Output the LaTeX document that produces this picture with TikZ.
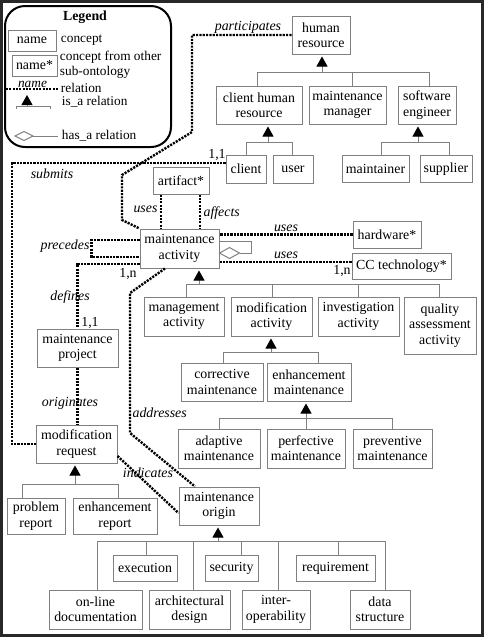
\documentclass[tikz,border=0pt]{standalone}
\usepackage{fontspec}
\setmainfont{Liberation Serif}
\usetikzlibrary{arrows.meta,calc}
\definecolor{boxgray}{RGB}{128,128,128}
\definecolor{framegray}{RGB}{40,40,40}
\begin{document}
\begin{tikzpicture}[x=0.75pt,y=-0.75pt,
  every node/.style={font=\fontsize{10.4}{11.5}\selectfont},
  concept/.style={draw=boxgray, line width=0.75pt, fill=white, align=center, inner sep=0pt},
  wd/.style={minimum width=#1*0.75pt},
  ht/.style={minimum height=#1*0.75pt},
  rel/.style={line width=1.8pt, dash pattern=on 1.6pt off 0.9pt},
  lbl/.style={font=\fontsize{10.4}{11.5}\selectfont\itshape, inner sep=1pt},
  txt/.style={inner sep=1pt},
  legtxt/.style={inner sep=0.5pt, font=\fontsize{10}{11}\selectfont},
  isa/.style={draw=boxgray, line width=0.75pt},
  isatip/.style={isa, -{Triangle[color=black, fill=black, width=8.25pt, length=7.5pt]}, shorten >=1.5pt},
]
\useasboundingbox (0,0) rectangle (484,637);
\draw[framegray, line width=2.25pt] (1.5,1.5) rectangle (482.5,635.5);

% ---------- legend ----------
\draw[line width=1.5pt, rounded corners=15pt] (5,6) rectangle (171,147);
\node[font=\fontsize{10.4}{11.5}\selectfont\bfseries] (legtitle) at (85,17) {Legend};
\node[concept, wd=48, ht=21] (lname) at (32,40.5) {name};
\node[legtxt, anchor=west] (lconcept) at (60,40) {concept};
\node[concept, wd=45, ht=21] (lname2) at (34.5,65.5) {name*};
\node[legtxt, anchor=west, align=left] (lother) at (59,65) {concept from other\\sub-ontology};
\draw[rel] (6,89) -- (59,89) node[lbl, midway, above, inner sep=0.5pt, font=\fontsize{10}{11}\selectfont\itshape] (lrelname) {name};
\node[legtxt, anchor=west] (lrel) at (60,88) {relation};
\draw[isa] (16,109) -- (16,106) -- (50,106) -- (50,109);
\draw[isatip] (27,106) -- (27,93);
\node[legtxt, anchor=west] (lisa) at (61,101.5) {is\_a relation};
\draw[isa, fill=white] (15,136) -- (24,131.5) -- (33,136) -- (24,140.5) -- cycle;
\draw[isa] (33,136) -- (58,136);
\node[legtxt, anchor=west] (lhasa) at (61,136) {has\_a relation};

% ---------- concepts ----------
\node[concept, wd=58, ht=38] (hr) at (321,35) {human\\resource};
\node[concept, wd=86, ht=38] (chr) at (259,105) {client human\\resource};
\node[concept, wd=77, ht=38] (mm) at (347.5,105) {maintenance\\manager};
\node[concept, wd=58, ht=38] (se) at (427,105) {software\\engineer};
\node[concept, wd=40, ht=28] (client) at (246,169) {client};
\node[concept, wd=40, ht=28] (user) at (293,169) {user};
\node[concept, wd=67, ht=27] (maintainer) at (375.5,169) {maintainer};
\node[concept, wd=52, ht=27] (supplier) at (446,169) {supplier};
\node[concept, wd=56, ht=27] (artifact) at (181,180.5) {artifact*};
\node[concept, wd=79, ht=39] (ma) at (179.5,248.5) {maintenance\\activity};
\node[concept, wd=68, ht=27] (hw) at (387,234.5) {hardware*};
\node[concept, wd=99, ht=26] (cc) at (401.5,266) {CC technology*};
\node[concept, wd=80, ht=39] (mga) at (184,316.5) {management\\activity};
\node[concept, wd=81, ht=39] (moda) at (271.5,316.5) {modification\\activity};
\node[concept, wd=81, ht=39] (inva) at (358.5,316.5) {investigation\\activity};
\node[concept, wd=72, ht=57] (qaa) at (440,325.5) {quality\\assessment\\activity};
\node[concept, wd=82, ht=38] (cm) at (222,382) {corrective\\maintenance};
\node[concept, wd=84, ht=38] (em) at (309,382) {enhancement\\maintenance};
\node[concept, wd=82, ht=39] (am) at (219,448.5) {adaptive\\maintenance};
\node[concept, wd=78, ht=39] (pm) at (306,448.5) {perfective\\maintenance};
\node[concept, wd=79, ht=39] (pvm) at (392.5,448.5) {preventive\\maintenance};
\node[concept, wd=80, ht=38] (mo) at (219,506) {maintenance\\origin};
\node[concept, wd=64, ht=26] (exec) at (145,568) {execution};
\node[concept, wd=53, ht=26] (sec) at (231.5,568) {security};
\node[concept, wd=79, ht=26] (req) at (335.5,568) {requirement};
\node[concept, wd=93, ht=39] (old) at (95.5,609.5) {on-line\\documentation};
\node[concept, wd=81, ht=39] (ad) at (189.5,609.5) {architectural\\design};
\node[concept, wd=68, ht=39] (io) at (276,609.5) {inter-\\operability};
\node[concept, wd=60, ht=39] (ds) at (380,609.5) {data\\structure};
\node[concept, wd=81, ht=38] (mp) at (77.5,348) {maintenance\\project};
\node[concept, wd=81, ht=38] (mr) at (76.5,444) {modification\\request};
\node[concept, wd=58, ht=36] (pr) at (36,516) {problem\\report};
\node[concept, wd=84, ht=36] (er) at (115,516) {enhancement\\report};

% ---------- is_a hierarchies ----------
% human resource
\coordinate (t1) at (322,72);
\draw[isatip] (t1) -- (t1 |- hr.south);
\coordinate (b1a) at (257,72); \coordinate (b1b) at (352,72); \coordinate (b1c) at (429,72);
\draw[isa] (b1a) -- (b1c);
\foreach \c/\n in {b1a/chr, b1b/mm, b1c/se} \draw[isa] (\c) -- (\c |- \n.north);
% client human resource
\coordinate (t2) at (268,142);
\draw[isatip] (t2) -- (t2 |- chr.south);
\coordinate (b2a) at (246,142); \coordinate (b2b) at (292,142);
\draw[isa] (b2a) -- (b2b);
\foreach \c/\n in {b2a/client, b2b/user} \draw[isa] (\c) -- (\c |- \n.north);
% software engineer
\coordinate (t3) at (418,142);
\draw[isatip] (t3) -- (t3 |- se.south);
\coordinate (b3a) at (381,142); \coordinate (b3b) at (449,142);
\draw[isa] (b3a) -- (b3b);
\foreach \c/\n in {b3a/maintainer, b3b/supplier} \draw[isa] (\c) -- (\c |- \n.north);
% maintenance activity
\coordinate (t4) at (199,284);
\draw[isatip] (t4) -- (t4 |- ma.south);
\coordinate (b4a) at (186,284); \coordinate (b4b) at (272,284); \coordinate (b4c) at (358,284); \coordinate (b4d) at (439,284);
\draw[isa] (b4a) -- (b4d);
\foreach \c/\n in {b4a/mga, b4b/moda, b4c/inva, b4d/qaa} \draw[isa] (\c) -- (\c |- \n.north);
% modification activity
\coordinate (t5) at (271,352);
\draw[isatip] (t5) -- (t5 |- moda.south);
\coordinate (b5a) at (223,352); \coordinate (b5b) at (318,352);
\draw[isa] (b5a) -- (b5b);
\foreach \c/\n in {b5a/cm, b5b/em} \draw[isa] (\c) -- (\c |- \n.north);
% enhancement maintenance
\coordinate (t6) at (306,418);
\draw[isatip] (t6) -- (t6 |- em.south);
\coordinate (b6a) at (219,418); \coordinate (b6b) at (306,418); \coordinate (b6c) at (392,418);
\draw[isa] (b6a) -- (b6c);
\foreach \c/\n in {b6a/am, b6b/pm, b6c/pvm} \draw[isa] (\c) -- (\c |- \n.north);
% maintenance origin
\coordinate (t7) at (218,541);
\draw[isatip] (t7) -- (t7 |- mo.south);
\coordinate (b7a) at (97,541); \coordinate (b7b) at (146,541); \coordinate (b7c) at (193,541);
\coordinate (b7d) at (241,541); \coordinate (b7e) at (278,541); \coordinate (b7f) at (338,541); \coordinate (b7g) at (385,541);
\draw[isa] (b7a) -- (b7g);
\foreach \c/\n in {b7a/old, b7b/exec, b7c/ad, b7d/sec, b7e/io, b7f/req, b7g/ds} \draw[isa] (\c) -- (\c |- \n.north);
% modification request
\coordinate (t8) at (75,484);
\draw[isatip] (t8) -- (t8 |- mr.south);
\coordinate (b8a) at (22,484); \coordinate (b8b) at (118,484);
\draw[isa] (b8a) -- (b8b);
\foreach \c/\n in {b8a/pr, b8b/er} \draw[isa] (\c) -- (\c |- \n.north);

% ---------- has_a self relation ----------
\coordinate (h1) at ([yshift=5.6pt]ma.east);
\draw[isa] (h1) -- ++(32,0) -- ++(0,12) -- ++(-12,0);
\draw[isa, fill=white] ($(h1)+(0,12)$) -- ++(10,-5.5) -- ++(10,5.5) -- ++(-10,5.5) -- cycle;

% ---------- relations ----------
% participates
\draw[rel] (hr.west) -- (192,35) -- (192,132) -- (122,175) -- (122,220) -- (ma.north west);
\node[lbl] (lpart) at (248,27) {participates};
% submits
\draw[rel] ([yshift=4.5pt]client.west) -- (12,163) -- (12,444) -- (mr.west);
\node[lbl] (lsub) at (52,174) {submits};
\node[txt] (c11a) at (217,155) {1,1};
% uses / affects artifact
\coordinate (u1) at ([xshift=-15pt]artifact.south);
\coordinate (u2) at ([xshift=14.25pt]artifact.south);
\draw[rel] (u1) -- (u1 |- ma.north);
\draw[rel] (u2) -- (u2 |- ma.north);
\node[lbl, anchor=east] (luses1) at (159,209) {uses};
\node[lbl, anchor=west] (laff) at (202,213) {affects};
% uses hardware
\draw[rel] (hw.west) -- (hw.west -| ma.east);
\node[lbl] (luses2) at (286,228) {uses};
% uses CC technology
\coordinate (c1) at ([yshift=3pt]cc.west);
\draw[rel] (c1) -- (c1 -| ma.east);
\node[lbl] (luses3) at (286,255) {uses};
\node[txt] (c1n2) at (342,271) {1,n};
% precedes
\draw[rel] ([yshift=6.4pt]ma.west) -- ++(-48,0) -- ++(0,17) -- ++(48,0);
\node[lbl, anchor=east] (lprec) at (91,246) {precedes};
% defines
\draw[rel] ([yshift=-11.6pt]ma.west) -| (mp.north);
\node[lbl] (ldef) at (70,297) {defines};
\node[txt] (c11b) at (90,323) {1,1};
\node[txt] (c1n1) at (128,274) {1,n};
% originates
\draw[rel] (mp.south) -- (mp.south |- mr.north);
\node[lbl] (lorig) at (70,403) {originates};
% addresses
\draw[rel] ([xshift=-10.9pt]ma.south) -- (130,293) -- (130,433) -- ([xshift=-18pt]mo.north);
\node[lbl, anchor=west] (laddr) at (131,413) {addresses};
% indicates
\draw[rel] ([yshift=-9pt]mr.east) -- ([yshift=-5.25pt]mo.west);
\node[lbl] (lind) at (148,473) {indicates};
\end{tikzpicture}
\end{document}
